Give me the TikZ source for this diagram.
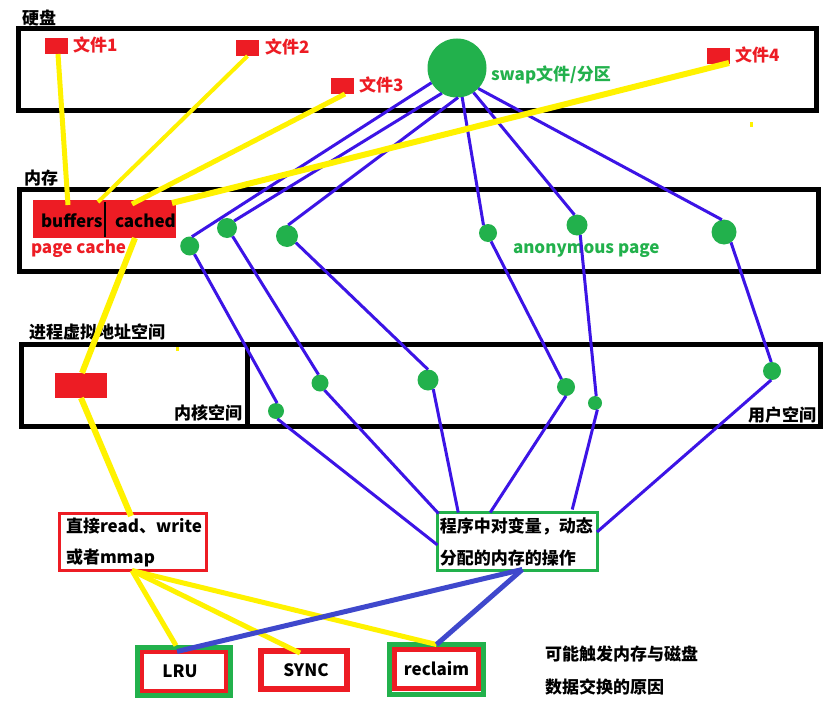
\documentclass[tikz,border=0pt]{standalone}
\usepackage{fontspec}
\setmainfont{Noto Sans CJK SC}
\definecolor{pred}{HTML}{ED1C24}
\definecolor{pgreen}{HTML}{22B14C}
\definecolor{pyellow}{HTML}{FFF200}
\definecolor{pblue}{HTML}{3C14E6}
\definecolor{pindigo}{HTML}{3F48CC}
\tikzset{
  txt/.style={inner sep=0pt,outer sep=0pt,anchor=base west,font=\fontsize{17}{20}\selectfont\bfseries},
  region/.style={draw=black,line width=5pt,fill=none,inner sep=0pt,outer sep=0pt,anchor=north west},
  block/.style={fill=pred,inner sep=0pt,outer sep=0pt,anchor=north west},
  dot/.style={circle,fill=pgreen,inner sep=0pt,outer sep=0pt,minimum size=#1},
  linkthin/.style={draw=pblue,line width=3pt},
  linkyellow/.style={draw=pyellow,line width=#1},
  linkindigo/.style={draw=pindigo,line width=5pt},
  cause/.style={draw=pred,fill=white,inner sep=0pt,outer sep=0pt,font=\fontsize{17}{20}\selectfont\bfseries},
  halo/.style={draw=pgreen,line width=5pt,inner sep=0pt,outer sep=0pt},
  twoline/.style={fill=white,line width=3pt,inner ysep=0pt,outer sep=0pt,align=left,font=\fontsize{17}{32}\selectfont\bfseries}
}
\begin{document}
\begin{tikzpicture}[x=1pt,y=-1pt]
\path[use as bounding box,fill=white] (0,0) rectangle (835,717);
% regions
\node[region,minimum width=798.5pt,minimum height=82pt] (disk) at (18,28.5) {};
\node[region,minimum width=799pt,minimum height=82pt] (mem) at (19.5,189.5) {};
\node[region,minimum width=799pt,minimum height=82pt] (vm) at (21.5,344.5) {};
\node[region,minimum width=225.5pt,minimum height=82pt] (kern) at (21.5,344.5) {};
% labels
\node[txt] (tdisk) at (22,24.5) {硬盘};
\node[txt] (tmem) at (24,184.5) {内存};
\node[txt] (tvm) at (29,338.5) {进程虚拟地址空间};
\node[txt] (tkern) at (174,419.5) {内核空间};
\node[txt] (tuser) at (748,421.5) {用户空间};
% files
\node[block,minimum width=23pt,minimum height=16pt] (f1) at (45,38) {};
\node[block,minimum width=23pt,minimum height=16pt] (f2) at (236,40) {};
\node[block,minimum width=23pt,minimum height=16pt] (f3) at (331,78) {};
\node[block,minimum width=23pt,minimum height=16pt] (f4) at (707,48) {};
\node[txt,text=pred] (tf1) at (73,51.5) {文件1};
\node[txt,text=pred] (tf2) at (265,53.5) {文件2};
\node[txt,text=pred] (tf3) at (359,91.5) {文件3};
\node[txt,text=pred] (tf4) at (735,61.5) {文件4};
\node[dot=59pt] (swap) at (457,68) {};
\node[txt,text=pgreen] (tswap) at (491,80.5) {swap文件/分区};
% page cache
\node[block,minimum width=72pt,minimum height=38pt] (buf) at (33,200) {};
\node[block,minimum width=71pt,minimum height=38pt] (cac) at (105,200) {};
\draw[black,line width=2pt] ([yshift=-2pt]buf.north east) -- ([yshift=1pt]buf.south east);
\node[txt] (tbuf) at (41,227) {buffers};
\node[txt] (tcac) at (115,227) {cached};
\node[txt,text=pred] (tpc) at (31,253) {page cache};
\node[txt,text=pgreen] (tanon) at (513,253) {anonymous page};
% dots
\node[dot=19pt] (d1) at (189.7,246) {};
\node[dot=20pt] (d2) at (227,228) {};
\node[dot=22pt] (d3) at (287,236) {};
\node[dot=18pt] (d4) at (488,233) {};
\node[dot=21pt] (d5) at (577,225) {};
\node[dot=25pt] (d6) at (724,232) {};
\node[dot=16pt] (p1) at (276,411) {};
\node[dot=17pt] (p2) at (320,383) {};
\node[dot=21pt] (p3) at (428,380) {};
\node[dot=18pt] (p4) at (566,387) {};
\node[dot=14pt] (p5) at (595,403) {};
\node[dot=18pt] (p6) at (772,371) {};
% vm block
\node[block,minimum width=52pt,minimum height=25pt] (vmb) at (55,373) {};
% operation boxes
\node[twoline,draw=pred,minimum width=147pt,minimum height=57pt,text width=134pt,inner xsep=6.5pt] (direct) at (133,542) {\raisebox{-1pt}{直接read、write}\\或者mmap};
\node[twoline,draw=pgreen,minimum width=159.5pt,minimum height=58pt,text width=155pt,inner xsep=2.25pt] (prog) at (517.25,541.5) {\raisebox{-1pt}{程序中对变量，动态}\\\raisebox{-1pt}{分配的内存的操作}};
% causes
\node[halo,minimum width=93pt,minimum height=48pt] (lruh) at (184,671.5) {};
\node[cause,line width=4.5pt,minimum width=84pt,minimum height=39pt] (lru) at (184,671.5) {\hspace*{-8pt}LRU};
\node[cause,line width=6pt,minimum width=86pt,minimum height=38pt] (sync) at (304,670) {\hspace*{4pt}SYNC};
\node[halo,minimum width=94pt,minimum height=50pt] (rech) at (436.5,669.5) {};
\node[cause,line width=5pt,minimum width=84pt,minimum height=39pt] (rec) at (436.5,669) {reclaim};
\node[txt] (tc1) at (545,660) {可能触发内存与磁盘};
\node[txt] (tc2) at (545,693) {数据交换的原因};
% swap to memory
\draw[linkthin] (swap.210) -- (d1.77);
\draw[linkthin] (swap.239) -- (d2.45);
\draw[linkthin] (swap.272) -- (d3.84);
\draw[linkthin] (swap.280) -- (d4.120);
\draw[linkthin] (swap.304) -- (d5.104);
\draw[linkthin] (swap.316) -- (d6.100);
% memory to vm
\draw[linkthin] (d1.300) -- (p1.82);
\draw[linkthin] (d2.304) -- (p2.100);
\draw[linkthin] (d3.323) -- (p3.90);
\draw[linkthin] (d4.290) -- (p4.120);
\draw[linkthin] (d5.288) -- (p5.80);
\draw[linkthin] (d6.304) -- (p6.95);
% vm to program
\draw[linkthin] (p1.280) -- ([yshift=-3.5pt]prog.west);
\draw[linkthin] (p2.302) -- ([yshift=28pt,xshift=1pt]prog.west);
\draw[linkthin] (p3.300) -- ([xshift=-59pt]prog.north);
\draw[linkthin] (p4.270) -- ([xshift=-27pt]prog.north);
\draw[linkthin] (p5.290) -- ([xshift=55pt,yshift=3pt]prog.north);
\draw[linkthin] (p6.265) -- ([yshift=9.5pt]prog.east);
% yellow
\draw[linkyellow=5pt] ([xshift=1.5pt]f1.south) -- ([xshift=-1pt,yshift=-5pt]buf.north);
\draw[linkyellow=4pt] (f2.south) -- ([xshift=29pt,yshift=-2pt]buf.north);
\draw[linkyellow=5pt] ([xshift=2.5pt]f3.south) -- ([xshift=-8.5pt,yshift=-4pt]cac.north);
\draw[linkyellow=6pt] ([xshift=10.5pt,yshift=1pt]f4.south) -- ([xshift=31.5pt,yshift=-3pt]cac.north);
\draw[linkyellow=6pt] ([xshift=-5.5pt]cac.south) -- ([xshift=1pt]vmb.north);
\draw[linkyellow=6pt] (vmb.south) -- ([xshift=-2pt,yshift=-2.5pt]direct.north);
\draw[linkyellow=5pt] ([xshift=-1pt]direct.south) -- ([xshift=-8pt,yshift=2pt]lruh.north);
\draw[linkyellow=5pt] ([xshift=-1pt]direct.south) -- ([xshift=-4pt,yshift=-2pt]sync.north);
\draw[linkyellow=5pt] ([xshift=-1pt]direct.south) -- (rech.north);
% indigo
\draw[linkindigo] ([xshift=-7pt,yshift=-4pt]lruh.north) -- ([xshift=5pt,yshift=1pt]prog.south);
\draw[linkindigo] (rech.north) -- ([xshift=5pt,yshift=1pt]prog.south);
% specks
\fill[pyellow] (749.5,121.5) rectangle (752.5,126.5);
\fill[pyellow] (176,347) rectangle (179,351);
\end{tikzpicture}
\end{document}
